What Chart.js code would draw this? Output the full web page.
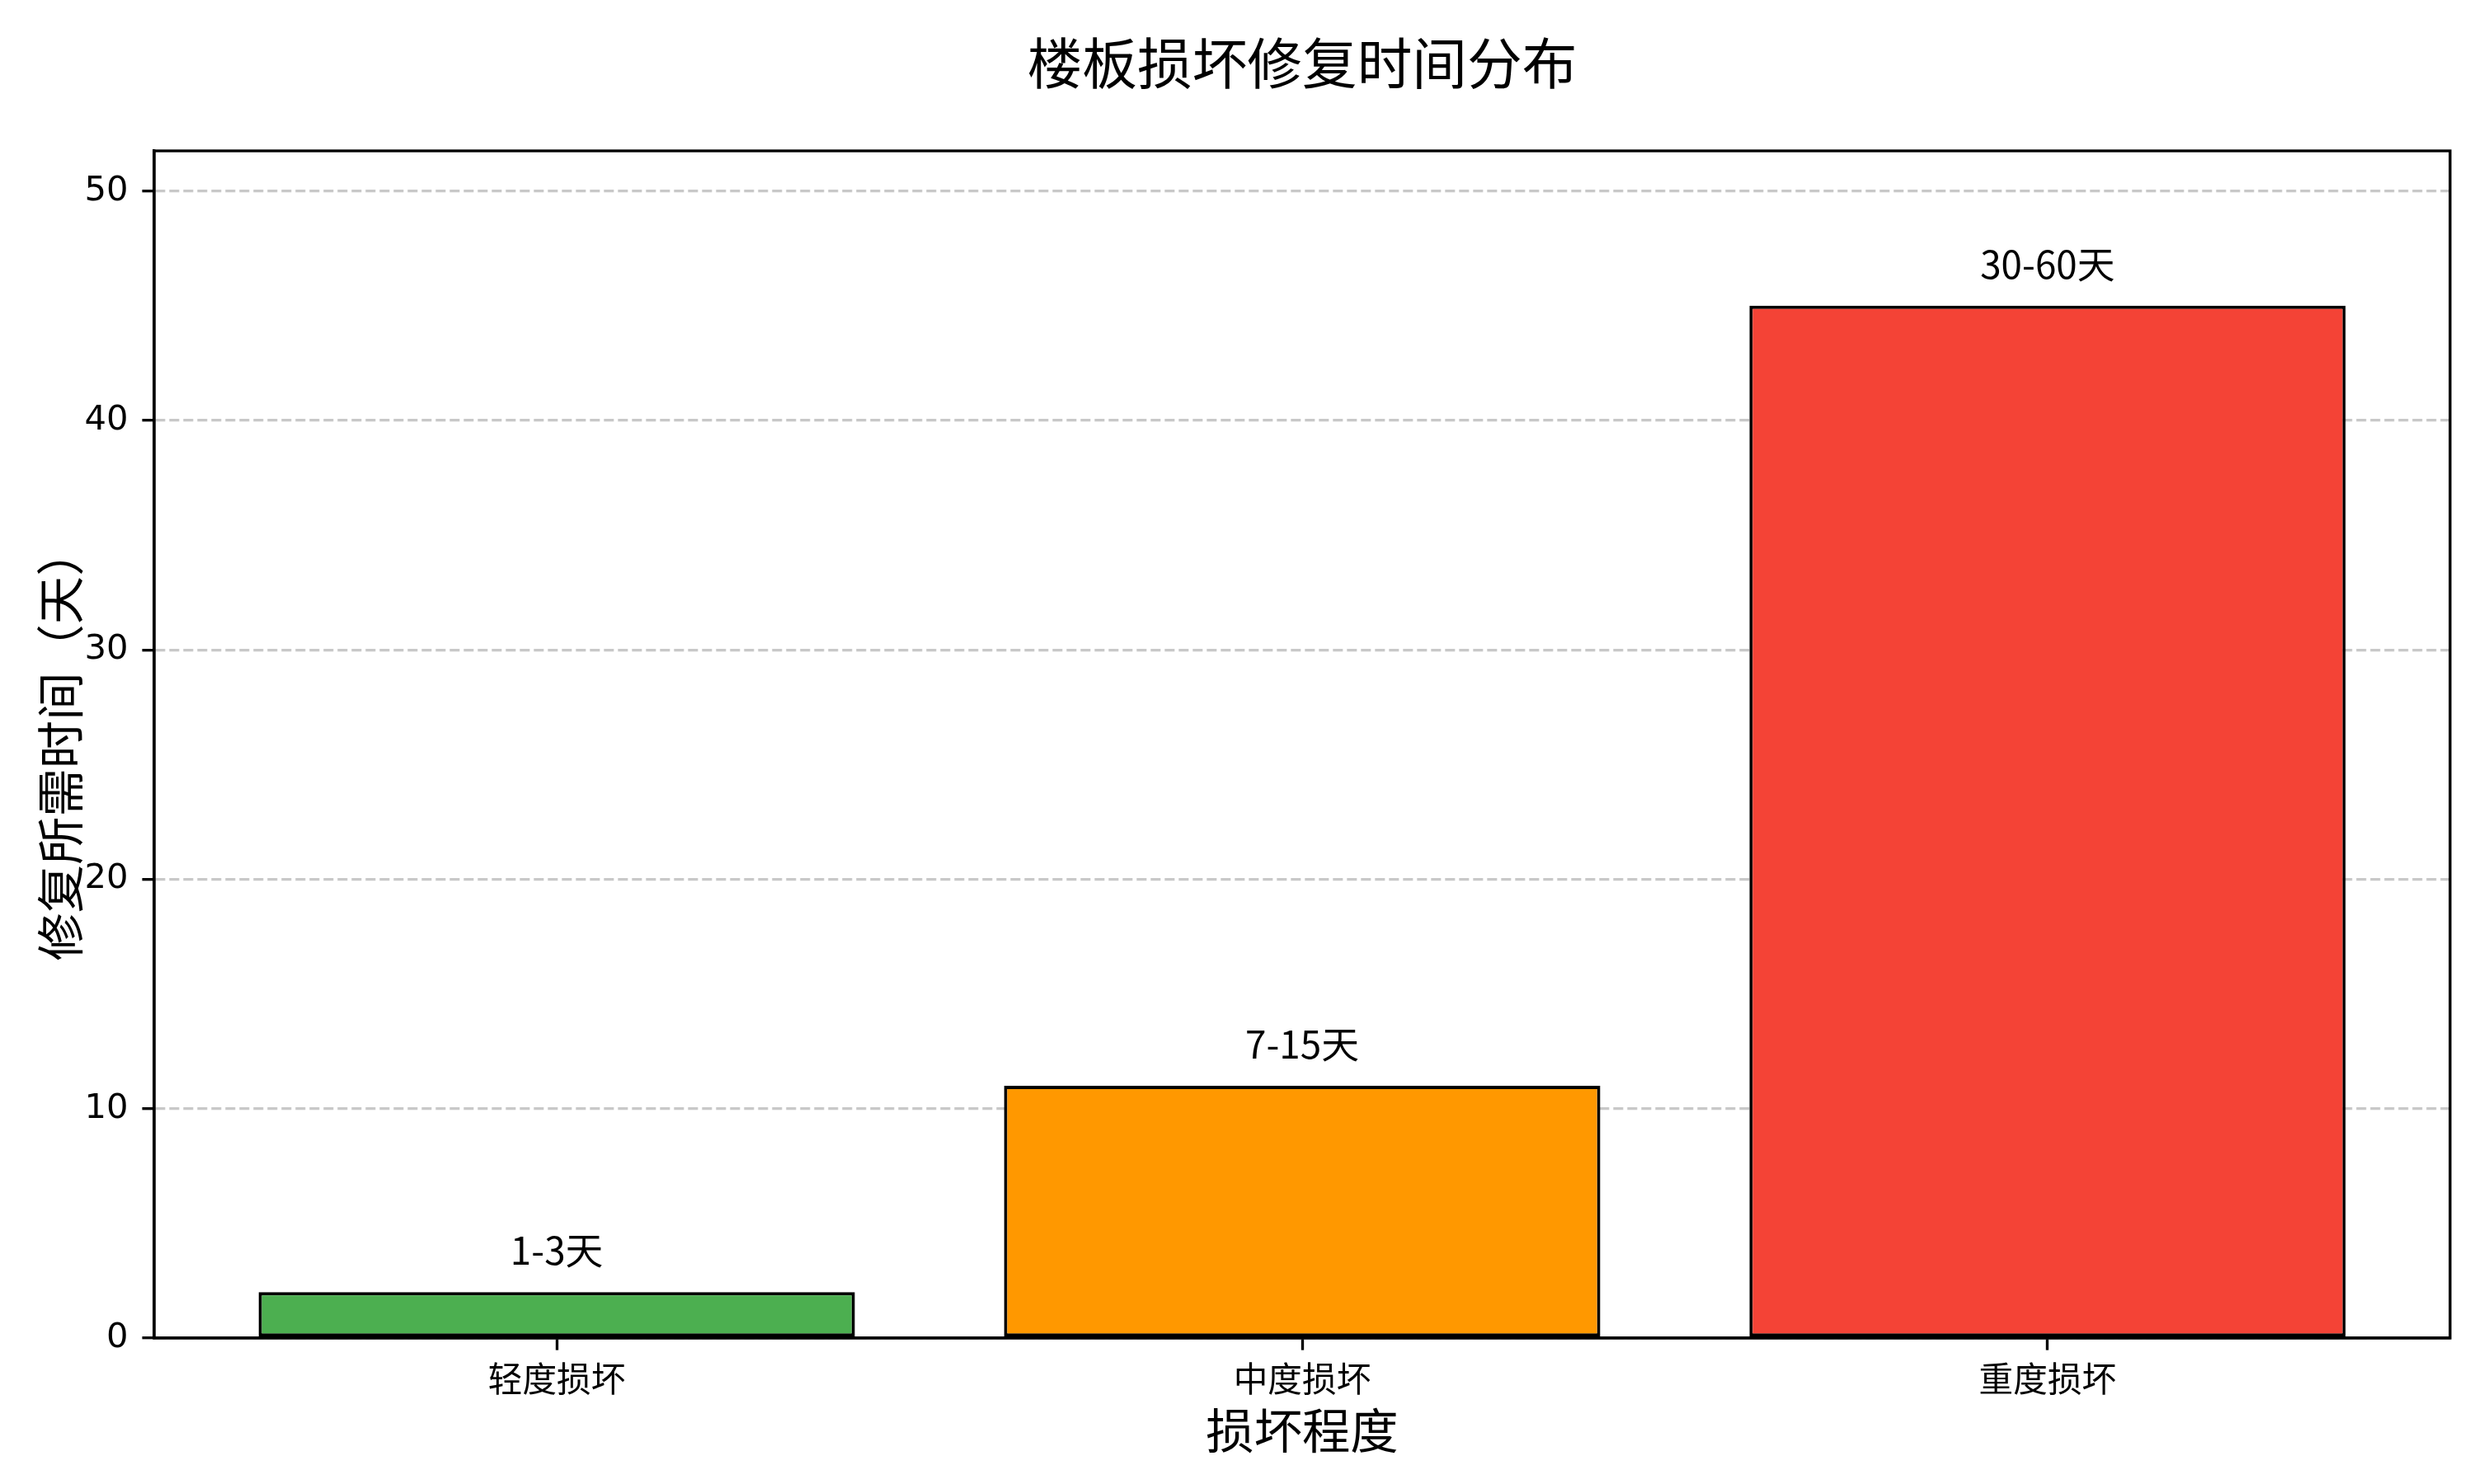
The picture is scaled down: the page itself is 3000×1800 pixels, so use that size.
<!DOCTYPE html>
<html>
<head>
<meta charset="utf-8">
<script src="https://cdn.jsdelivr.net/npm/chart.js@4.4.1/dist/chart.umd.min.js"></script>
<style>
  body { margin: 0; background: #fff; }
  canvas { display: block; }
</style>
</head>
<body>
<canvas id="chart" width="3000" height="1800"></canvas>
<script>
// data
const categories = ['轻度损坏', '中度损坏', '重度损坏'];
const repairDays = [2, 11, 45];
const rangeLabels = ['1-3天', '7-15天', '30-60天'];
const barColors = ['#4CAF50', '#FF9800', '#F44336'];
const yTicks = [0, 10, 20, 30, 40, 50];

const cjk = '"Noto Sans CJK SC", "DejaVu Sans", sans-serif';
const pt = 300 / 72; // figure was 300 dpi

// matplotlib-like limits: 5% x margin around bars, y up to 1.15 * max
const barWidth = 0.8;
const span = (categories.length - 1) + barWidth;
const xMin = -barWidth / 2 - 0.05 * span;
const xMax = (categories.length - 1) + barWidth / 2 + 0.05 * span;
const yMax = Math.max(...repairDays) * 1.15;

const points = repairDays.map((v, i) => ({ x: i, y: v }));

// draws the box round the axes and the text over each bar
const extras = {
  id: 'extras',
  afterDatasetsDraw(chart) {
    const { ctx, chartArea, scales } = chart;
    ctx.save();
    ctx.font = `${11 * pt}px ${cjk}`;
    ctx.fillStyle = '#000';
    ctx.textAlign = 'center';
    ctx.textBaseline = 'bottom';
    repairDays.forEach((v, i) => {
      ctx.fillText(rangeLabels[i], scales.x.getPixelForValue(i), scales.y.getPixelForValue(v + 1));
    });
    ctx.lineWidth = 0.8 * pt;
    ctx.strokeStyle = '#000';
    ctx.strokeRect(chartArea.left, chartArea.top, chartArea.right - chartArea.left, chartArea.bottom - chartArea.top);
    ctx.restore();
  }
};

const ctx = document.getElementById('chart').getContext('2d');
const chart = new Chart(ctx, {
  type: 'bar',
  data: {
    datasets: [{
      data: points,
      backgroundColor: barColors,
      borderColor: '#000',
      borderWidth: 4,
      borderSkipped: false,
      barPercentage: barWidth,
      categoryPercentage: 1.0
    }]
  },
  options: {
    responsive: false,
    devicePixelRatio: 1,
    animation: false,
    layout: { padding: { left: 0, right: 29, top: 0, bottom: 0 } },
    plugins: {
      legend: { display: false },
      tooltip: { enabled: false },
      title: {
        display: true,
        fullSize: false,
        text: '楼板损坏修复时间分布',
        color: '#000',
        font: { family: cjk, size: 16 * pt, weight: 'normal' },
        padding: { top: 37, bottom: 66 }
      }
    },
    scales: {
      x: {
        type: 'linear',
        min: xMin,
        max: xMax,
        offset: false,
        afterBuildTicks: (scale) => { scale.ticks = categories.map((c, i) => ({ value: i })); },
        afterFit: (scale) => { scale.height = 177; },
        ticks: {
          autoSkip: false,
          maxRotation: 0,
          padding: 10,
          color: '#000',
          font: { family: cjk, size: 10 * pt },
          callback: (value, index) => categories[index]
        },
        grid: {
          offset: false,
          drawOnChartArea: false,
          drawTicks: true,
          tickLength: 3.5 * pt,
          tickWidth: 0.8 * pt,
          tickColor: '#000'
        },
        border: { display: true, color: '#000', width: 0.8 * pt },
        title: {
          display: true,
          text: '损坏程度',
          color: '#000',
          font: { family: cjk, size: 14 * pt },
          padding: { top: 0, bottom: 30 }
        }
      },
      y: {
        min: 0,
        max: yMax,
        afterBuildTicks: (scale) => { scale.ticks = yTicks.map(v => ({ value: v })); },
        afterFit: (scale) => { scale.width = 187; },
        ticks: {
          padding: 17,
          color: '#000',
          font: { family: '"DejaVu Sans", sans-serif', size: 10 * pt }
        },
        grid: {
          color: 'rgba(176,176,176,0.7)',
          lineWidth: 0.8 * pt,
          drawTicks: true,
          tickLength: 3.5 * pt,
          tickWidth: 0.8 * pt,
          tickColor: '#000'
        },
        border: { display: true, color: '#000', width: 0.8 * pt, dash: [12, 5] },
        title: {
          display: true,
          text: '修复所需时间（天）',
          color: '#000',
          font: { family: cjk, size: 14 * pt },
          padding: { top: 38, bottom: 0 }
        }
      }
    }
  },
  plugins: [extras]
});
</script>
</body>
</html>
